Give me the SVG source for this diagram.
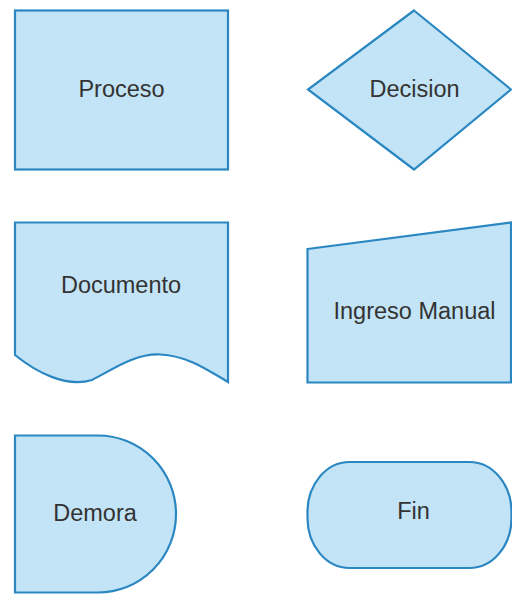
<svg xmlns="http://www.w3.org/2000/svg" width="512" height="594" viewBox="0 0 512 594">
<style>
.s{fill:#c3e4f6;stroke:#2a87c2;stroke-width:2.2;stroke-linejoin:miter}
.t{font-family:"Liberation Sans",Arial,sans-serif;font-size:23.5px;fill:#333333;text-anchor:middle}
</style>
<rect width="512" height="594" fill="#ffffff"/>
<g id="connectors"></g>
<g id="proceso">
<rect class="s" x="15" y="10.5" width="213" height="159"/>
<text class="t" x="121.5" y="96.5">Proceso</text>
</g>
<g id="decision">
<polygon class="s" points="414,10.5 511,89.5 414,169.5 308,89.5"/>
<text class="t" x="414.5" y="96.5">Decision</text>
</g>
<g id="documento">
<path class="s" d="M15,222.5 H228 V382 C206,369 188,356 160,354.5 C134,353.5 112,370 92,380 C66,388 36,372 15,355 Z"/>
<text class="t" x="121" y="292.5">Documento</text>
</g>
<g id="ingreso">
<polygon class="s" points="307.5,249 511,222.5 511,382.5 307.5,382.5"/>
<text class="t" x="414.5" y="319">Ingreso Manual</text>
</g>
<g id="demora">
<path class="s" d="M15,435.5 H98 A78,78.5 0 0 1 98,592.5 H15 Z"/>
<text class="t" x="95" y="520.5">Demora</text>
</g>
<g id="fin">
<rect class="s" x="307.5" y="462" width="204" height="106" rx="42" ry="50"/>
<text class="t" x="413.5" y="519">Fin</text>
</g>
</svg>
